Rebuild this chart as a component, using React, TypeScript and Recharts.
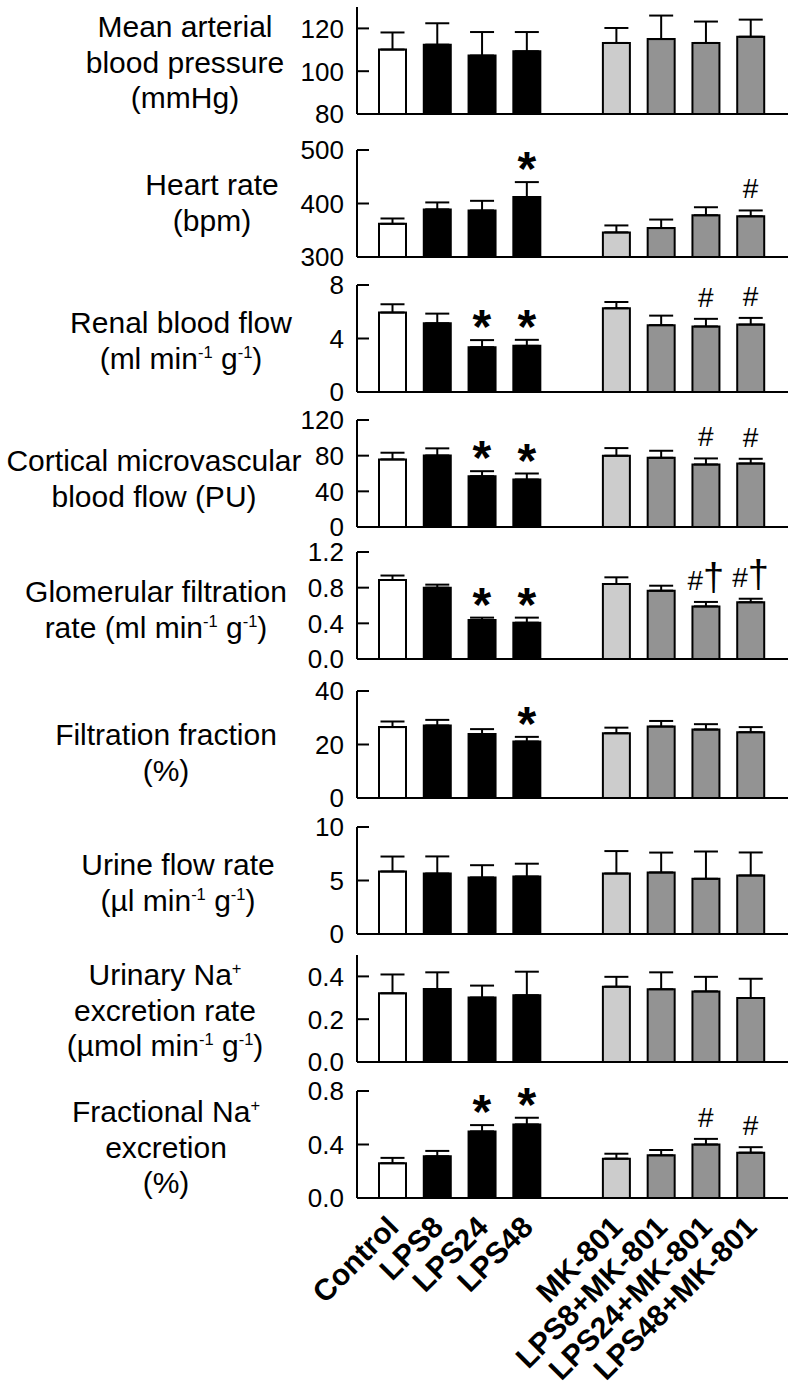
import React from 'react'
import {
  ComposedChart,
  Bar,
  Line,
  XAxis,
  YAxis,
  ErrorBar,
  Cell,
  LabelList,
} from 'recharts'

const FONT = '"Liberation Sans", Arial, Helvetica, sans-serif'
const AXIS_X = 357
const PLOT_H = 107
const TOP_PAD = 40

// group order, slot 4 is the empty gap between the two groups
const groups = ['Control', 'LPS8', 'LPS24', 'LPS48', '', 'MK-801', 'LPS8+MK-801', 'LPS24+MK-801', 'LPS48+MK-801']
const fills = ['#ffffff', '#000000', '#000000', '#000000', 'none', '#cccccc', '#939393', '#939393', '#939393']

const mapValues = [110.1, 112.4, 107.3, 109.3, null, 113.2, 115.0, 113.2, 116.1]
const mapErrors = [8, 10, 11, 9, null, 7, 11, 10, 8]
const mapSig = ['', '', '', '', '', '', '', '', '']

const hrValues = [362, 389, 387, 412, null, 346, 354, 378, 376]
const hrErrors = [10, 13, 18, 28, null, 13, 16, 15, 11]
const hrSig = ['', '', '', '*', '', '', '', '', '#']

const rbfValues = [5.94, 5.14, 3.35, 3.45, null, 6.26, 5.0, 4.9, 5.04]
const rbfErrors = [0.62, 0.72, 0.53, 0.45, null, 0.47, 0.71, 0.57, 0.5]
const rbfSig = ['', '', '*', '*', '', '', '', '#', '#']

const cmbfValues = [75.8, 80.2, 57.0, 53.2, null, 79.9, 77.6, 70.1, 71.2]
const cmbfErrors = [7.5, 8, 5.6, 6.8, null, 8.6, 7.9, 6.8, 5.3]
const cmbfSig = ['', '', '*', '*', '', '', '', '#', '#']

const gfrValues = [0.886, 0.8, 0.437, 0.407, null, 0.841, 0.766, 0.59, 0.636]
const gfrErrors = [0.05, 0.034, 0.027, 0.057, null, 0.075, 0.056, 0.05, 0.04]
const gfrSig = ['', '', '*', '*', '', '', '', '#†', '#†']

const ffValues = [26.5, 27.1, 23.9, 21.1, null, 24.2, 26.7, 25.6, 24.6]
const ffErrors = [2.1, 2.1, 1.85, 1.75, null, 2.1, 2.1, 2.0, 1.9]
const ffSig = ['', '', '', '*', '', '', '', '', '']

const ufrValues = [5.84, 5.65, 5.28, 5.37, null, 5.65, 5.75, 5.16, 5.47]
const ufrErrors = [1.4, 1.6, 1.15, 1.2, null, 2.1, 1.86, 2.55, 2.15]
const ufrSig = ['', '', '', '', '', '', '', '', '']

const unaValues = [0.321, 0.341, 0.301, 0.312, null, 0.352, 0.34, 0.33, 0.299]
const unaErrors = [0.088, 0.078, 0.056, 0.11, null, 0.046, 0.079, 0.068, 0.09]
const unaSig = ['', '', '', '', '', '', '', '', '']

const fenaValues = [0.26, 0.312, 0.498, 0.55, null, 0.294, 0.319, 0.4, 0.339]
const fenaErrors = [0.04, 0.04, 0.047, 0.05, null, 0.037, 0.04, 0.042, 0.041]
const fenaSig = ['', '', '*', '*', '', '', '', '#', '#']

const Sup = ({ children }: { children: React.ReactNode }) => (
  <span style={{ fontSize: '0.55em', verticalAlign: 'super', lineHeight: 0 }}>{children}</span>
)

const fmt0 = (v: number) => String(v)
const fmt1 = (v: number) => v.toFixed(1)

const panels = [
  {
    lines: ['Mean arterial', 'blood pressure', '(mmHg)'],
    labelX: 185, baseline: 37, plotTop: 7,
    domain: [80, 130], ticks: [80, 100, 120], fmt: fmt0,
    values: mapValues, errors: mapErrors, sig: mapSig,
  },
  {
    lines: ['Heart rate', '(bpm)'],
    labelX: 212, baseline: 195, plotTop: 150,
    domain: [300, 500], ticks: [300, 400, 500], fmt: fmt0,
    values: hrValues, errors: hrErrors, sig: hrSig,
  },
  {
    lines: ['Renal blood flow', <>(ml min<Sup>-1</Sup> g<Sup>-1</Sup>)</>],
    labelX: 181, baseline: 333, plotTop: 285,
    domain: [0, 8], ticks: [0, 4, 8], fmt: fmt0,
    values: rbfValues, errors: rbfErrors, sig: rbfSig,
  },
  {
    lines: ['Cortical microvascular', 'blood flow (PU)'],
    labelX: 154, baseline: 471, plotTop: 420,
    domain: [0, 120], ticks: [0, 40, 80, 120], fmt: fmt0,
    values: cmbfValues, errors: cmbfErrors, sig: cmbfSig,
  },
  {
    lines: ['Glomerular filtration', <>rate (ml min<Sup>-1</Sup> g<Sup>-1</Sup>)</>],
    labelX: 156, baseline: 602, plotTop: 552,
    domain: [0, 1.2], ticks: [0, 0.4, 0.8, 1.2], fmt: fmt1,
    values: gfrValues, errors: gfrErrors, sig: gfrSig,
  },
  {
    lines: ['Filtration fraction', '(%)'],
    labelX: 166, baseline: 745, plotTop: 691,
    domain: [0, 40], ticks: [0, 20, 40], fmt: fmt0,
    values: ffValues, errors: ffErrors, sig: ffSig,
  },
  {
    lines: ['Urine flow rate', <>(µl min<Sup>-1</Sup> g<Sup>-1</Sup>)</>],
    labelX: 178, baseline: 875, plotTop: 827,
    domain: [0, 10], ticks: [0, 5, 10], fmt: fmt0,
    values: ufrValues, errors: ufrErrors, sig: ufrSig,
  },
  {
    lines: [<>Urinary Na<Sup>+</Sup></>, 'excretion rate', <>(µmol min<Sup>-1</Sup> g<Sup>-1</Sup>)</>],
    labelX: 165, baseline: 985, plotTop: 955,
    domain: [0, 0.5], ticks: [0, 0.2, 0.4], fmt: fmt1,
    values: unaValues, errors: unaErrors, sig: unaSig,
  },
  {
    lines: [<>Fractional Na<Sup>+</Sup></>, 'excretion', '(%)'],
    labelX: 166, baseline: 1122, plotTop: 1091,
    domain: [0, 0.8], ticks: [0, 0.4, 0.8], fmt: fmt1,
    values: fenaValues, errors: fenaErrors, sig: fenaSig,
  },
]

const YTick = ({ y, payload, fmt }: any) => (
  <g>
    <line x1={AXIS_X} x2={AXIS_X + 12} y1={y} y2={y} stroke="#000" strokeWidth={2} />
    <text x={AXIS_X - 13} y={y} dy="0.36em" textAnchor="end" fontSize={26} fontFamily={FONT} fill="#000">
      {fmt(payload.value)}
    </text>
  </g>
)

const XTick = ({ x, y, payload }: any) => {
  const ax = x + 8
  const ay = y + 31
  return (
    <text
      x={ax}
      y={ay}
      transform={`rotate(-45 ${ax} ${ay})`}
      textAnchor="end"
      fontSize={30}
      fontWeight="bold"
      fontFamily={FONT}
      fill="#000"
    >
      {payload.value}
    </text>
  )
}

const SigLabel = ({ x, y, value }: any) => {
  if (!value || y == null || isNaN(y)) return null
  if (value === '*') {
    return (
      <text x={x} y={y + 3} textAnchor="middle" fontSize={48} fontWeight="bold" fontFamily={FONT} fill="#000">
        *
      </text>
    )
  }
  if (value === '#') {
    return (
      <text x={x} y={y - 12} textAnchor="middle" fontSize={28} fontFamily={FONT} fill="#000">
        #
      </text>
    )
  }
  return (
    <text x={x} y={y - 12} textAnchor="middle" fontSize={28} fontFamily={FONT} fill="#000">
      #<tspan fontSize={38}>†</tspan>
    </text>
  )
}

const Panel = ({ p, last }: { p: (typeof panels)[number]; last: boolean }) => {
  const data = groups.map((name, i) => ({
    name,
    value: p.values[i],
    err: p.errors[i] == null ? null : [0, p.errors[i]],
    top: p.values[i] == null ? null : (p.values[i] as number) + (p.errors[i] as number),
    sig: p.sig[i],
  }))
  const bottom = last ? 195 : 14
  return (
    <div style={{ position: 'absolute', left: 0, top: p.plotTop - TOP_PAD }}>
      <ComposedChart
        width={797}
        height={TOP_PAD + PLOT_H + bottom}
        data={data}
        margin={{ top: TOP_PAD, right: 9, left: 0, bottom: 0 }}
      >
        <XAxis
          dataKey="name"
          height={bottom}
          padding={{ left: 13, right: 15 }}
          axisLine={{ stroke: '#000', strokeWidth: 2 }}
          tickLine={false}
          tickSize={0}
          tickMargin={0}
          interval={0}
          tick={last ? <XTick /> : false}
        />
        <YAxis
          width={AXIS_X}
          domain={p.domain}
          ticks={p.ticks}
          interval={0}
          allowDataOverflow
          axisLine={{ stroke: '#000', strokeWidth: 2 }}
          tickLine={false}
          tick={<YTick fmt={p.fmt} />}
        />
        <Bar dataKey="value" barSize={27} stroke="#000" strokeWidth={2} isAnimationActive={false}>
          {data.map((d, i) => (
            <Cell key={i} fill={fills[i]} stroke="#000" strokeWidth={2} />
          ))}
          <ErrorBar dataKey="err" width={12} strokeWidth={2} stroke="#000" direction="y" isAnimationActive={false} />
        </Bar>
        <Line
          dataKey="top"
          stroke="none"
          dot={false}
          activeDot={false}
          legendType="none"
          isAnimationActive={false}
        >
          <LabelList dataKey="sig" content={<SigLabel />} />
        </Line>
      </ComposedChart>
    </div>
  )
}

export default function App() {
  return (
    <div
      style={{
        position: 'absolute',
        left: 0,
        top: 0,
        width: 797,
        height: 1391,
        background: '#fff',
        fontFamily: FONT,
        overflow: 'hidden',
      }}
    >
      {panels.map((p, i) => (
        <div
          key={'l' + i}
          style={{
            position: 'absolute',
            left: p.labelX - 200,
            width: 400,
            top: p.baseline - 28,
            textAlign: 'center',
            fontSize: 30,
            lineHeight: '35.5px',
            whiteSpace: 'nowrap',
            color: '#000',
          }}
        >
          {p.lines.map((l, j) => (
            <div key={j}>{l}</div>
          ))}
        </div>
      ))}
      {panels.map((p, i) => (
        <Panel key={i} p={p} last={i === panels.length - 1} />
      ))}
    </div>
  )
}
